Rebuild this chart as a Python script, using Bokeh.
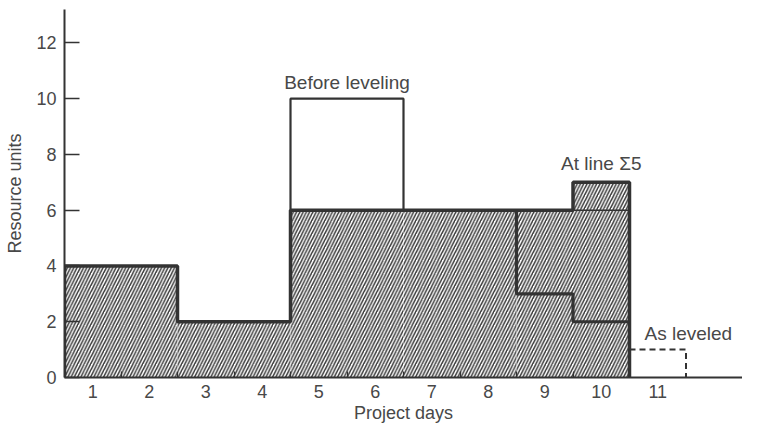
from bokeh.plotting import figure
from bokeh.models import Range1d, FixedTicker, ColumnDataSource
from bokeh.embed import file_html
from bokeh.resources import INLINE
from bokeh.core.properties import value

# ---- data ----
days = [1, 2, 3, 4, 5, 6, 7, 8, 9, 10]
at_line_s5 = [4, 4, 2, 2, 6, 6, 6, 6, 6, 7]      # hatched profile
before_days = [5, 6]
before_leveling = [10, 10]                        # open box above days 5-6
leveled_days = [9, 10]
as_leveled = [3, 2]                               # inner step inside days 9-10
extra_days = [11]
as_leveled_extra = [1]                            # dashed box on day 11
x_ticks = [1, 2, 3, 4, 5, 6, 7, 8, 9, 10, 11]
y_ticks = [0, 2, 4, 6, 8, 10, 12]

FONT = "Liberation Sans"
INK = "#333333"
TXT = "#484848"


def outline(ds, vals, left_base=None, right_base=None):
    xs, ys = [], []
    if left_base is not None:
        xs.append(ds[0] - 0.5); ys.append(left_base)
    for d, v in zip(ds, vals):
        xs += [d - 0.5, d + 0.5]
        ys += [v, v]
    if right_base is not None:
        xs.append(ds[-1] + 0.5); ys.append(right_base)
    return xs, ys


p = figure(width=742, height=425, output_backend="svg", toolbar_location=None,
           x_range=Range1d(0.5, 12.5), y_range=Range1d(0, 13.2),
           min_border_left=64, min_border_right=0, min_border_top=9, min_border_bottom=46)
p.outline_line_color = None
p.xgrid.grid_line_color = None
p.ygrid.grid_line_color = None
p.background_fill_color = "white"

# hatched area
src = ColumnDataSource(dict(left=[d - 0.5 for d in days], right=[d + 0.5 for d in days],
                            top=at_line_s5, bottom=[0] * len(days)))
p.quad(left="left", right="right", top="top", bottom="bottom", source=src,
       fill_color="white", line_color=None, hatch_pattern="/", hatch_scale=6.5,
       hatch_weight=1.5, hatch_color="#3a3a3a")

# before leveling box
base5 = at_line_s5[days.index(before_days[0])]
base6 = at_line_s5[days.index(before_days[-1])]
bx, by = outline(before_days, before_leveling, left_base=base5, right_base=base6)
p.line(bx, by, line_color=INK, line_width=2.2)

# main profile outline
mx, my = outline(days, at_line_s5, left_base=0, right_base=0)
p.line(mx, my, line_color=INK, line_width=3.5)

# inner as-leveled step inside days 9-10
lbase = at_line_s5[days.index(leveled_days[0]) - 1]
lx, ly = outline(leveled_days, as_leveled, left_base=lbase)
p.line(lx, ly, line_color=INK, line_width=3.2)

# thin line at level 6 in day 10
d10 = days[-1]
p.segment(x0=[d10 - 0.5], x1=[d10 + 0.5], y0=[at_line_s5[-2]], y1=[at_line_s5[-2]],
          line_color=INK, line_width=1.6)

# dashed as-leveled day 11
ex, ey = outline(extra_days, as_leveled_extra, right_base=0)
p.line(ex, ey, line_color=INK, line_width=2, line_dash="6 4")

# annotations
p.text(x=[sum(before_days) / 2], y=[before_leveling[0]], text=["Before leveling"],
       text_font=value(FONT), text_font_size="19px", text_color=TXT,
       text_align="center", text_baseline="bottom", y_offset=-6)
p.text(x=[d10], y=[at_line_s5[-1]], text=["At line \u03a35"],
       text_font=value(FONT), text_font_size="19px", text_color=TXT,
       text_align="center", text_baseline="bottom", y_offset=-8)
p.text(x=[extra_days[0] - 0.5], y=[as_leveled_extra[0]], text=["As leveled"],
       text_font=value(FONT), text_font_size="19px", text_color=TXT,
       text_align="left", text_baseline="bottom", x_offset=15, y_offset=-6)

# axes
xa = p.xaxis[0]
xa.ticker = FixedTicker(ticks=x_ticks, minor_ticks=[d + 0.5 for d in days[:-1]])
xa.major_tick_line_color = None
xa.major_tick_in = 0
xa.major_tick_out = 0
xa.minor_tick_in = 6
xa.minor_tick_out = 0
xa.minor_tick_line_color = INK
xa.minor_tick_line_width = 1.2
xa.axis_line_color = INK
xa.axis_line_width = 2
xa.major_label_standoff = 7
xa.major_label_text_font = FONT
xa.major_label_text_font_size = "18px"
xa.major_label_text_color = TXT
xa.axis_label = "Project days"
xa.axis_label_text_font = FONT
xa.axis_label_text_font_size = "18px"
xa.axis_label_text_font_style = "normal"
xa.axis_label_text_color = TXT
xa.axis_label_standoff = 2

ya = p.yaxis[0]
ya.ticker = FixedTicker(ticks=y_ticks, minor_ticks=[])
ya.major_tick_in = 15
ya.major_tick_out = 0
ya.major_tick_line_color = INK
ya.major_tick_line_width = 1.5
ya.minor_tick_line_color = None
ya.axis_line_color = INK
ya.axis_line_width = 2
ya.major_label_standoff = 8
ya.major_label_text_font = FONT
ya.major_label_text_font_size = "18px"
ya.major_label_text_color = TXT
ya.axis_label = "Resource units"
ya.axis_label_text_font = FONT
ya.axis_label_text_font_size = "18px"
ya.axis_label_text_font_style = "normal"
ya.axis_label_text_color = TXT
ya.axis_label_standoff = 8

open("out.html", "w").write(file_html(p, INLINE))
